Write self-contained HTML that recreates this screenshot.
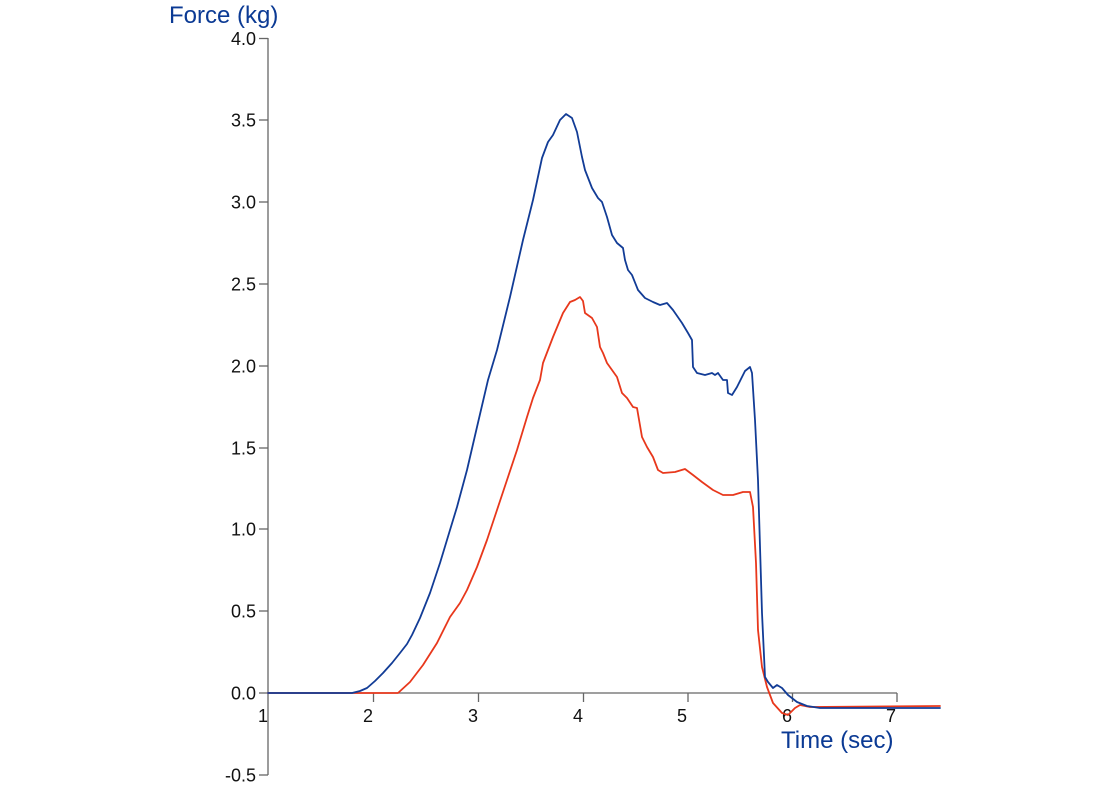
<!DOCTYPE html>
<html>
<head>
<meta charset="utf-8">
<style>
html,body{margin:0;padding:0;background:#fff;}
svg{display:block;}
text{font-family:"Liberation Sans",Arial,sans-serif;}
</style>
</head>
<body>
<svg width="1110" height="786" viewBox="0 0 1110 786" xmlns="http://www.w3.org/2000/svg">
<rect width="1110" height="786" fill="#fff"/>
<!-- axes -->
<g stroke="#666" stroke-width="1.3" fill="none">
<line x1="268" y1="38" x2="268" y2="775"/>
<line x1="268" y1="693" x2="897" y2="693"/>
<!-- y ticks -->
<line x1="259" y1="38.5" x2="268" y2="38.5"/>
<line x1="259" y1="120" x2="268" y2="120"/>
<line x1="259" y1="202" x2="268" y2="202"/>
<line x1="259" y1="284" x2="268" y2="284"/>
<line x1="259" y1="366" x2="268" y2="366"/>
<line x1="259" y1="448" x2="268" y2="448"/>
<line x1="259" y1="529" x2="268" y2="529"/>
<line x1="259" y1="611" x2="268" y2="611"/>
<line x1="259" y1="693" x2="268" y2="693"/>
<line x1="259" y1="775" x2="268" y2="775"/>
<!-- x ticks -->
<line x1="373.5" y1="693" x2="373.5" y2="702"/>
<line x1="478.5" y1="693" x2="478.5" y2="702"/>
<line x1="583.5" y1="693" x2="583.5" y2="702"/>
<line x1="688" y1="693" x2="688" y2="702"/>
<line x1="792.5" y1="693" x2="792.5" y2="702"/>
<line x1="897" y1="693" x2="897" y2="702"/>
</g>
<!-- y labels -->
<g font-size="18" fill="#111" text-anchor="end">
<text x="256" y="45">4.0</text>
<text x="256" y="126.5">3.5</text>
<text x="256" y="208.5">3.0</text>
<text x="256" y="290.5">2.5</text>
<text x="256" y="372.5">2.0</text>
<text x="256" y="454.5">1.5</text>
<text x="256" y="535.5">1.0</text>
<text x="256" y="617.5">0.5</text>
<text x="256" y="699.5">0.0</text>
<text x="256" y="781.5">-0.5</text>
</g>
<!-- x labels -->
<g font-size="18" fill="#111" text-anchor="middle">
<text x="263" y="722">1</text>
<text x="368" y="722">2</text>
<text x="473" y="722">3</text>
<text x="578" y="722">4</text>
<text x="682" y="722">5</text>
<text x="787" y="722">6</text>
<text x="891" y="722">7</text>
</g>
<text x="169" y="23" font-size="24" fill="#0b3a94">Force (kg)</text>
<text x="781" y="748" font-size="24" fill="#0b3a94">Time (sec)</text>
<!-- red series -->
<polyline fill="none" stroke="#e8381c" stroke-width="1.8" stroke-linejoin="round" stroke-linecap="round" points="268,693 398,693 410,682 423,665 437,643 450,617 460,603 467,590 477,567 487,540 497,510 507,480 517,450 527,417 533,398 540,380 543,363 553,337 563,313 570,302 575,300 580,297 583,301 585,313 592,318 597,327 600,347 603,353 607,363 617,377 622,393 627,398 633,407 637,408 642,437 647,447 653,457 658,470 663,473 675,472 685,469 693,475 702,482 713,490 723,495 733,495 743,492 750,492 753,507 756,563 758,630 762,667 767,687 773,703 782,713 788,715 795,708 800,705 810,707 940,706"/>
<!-- blue series -->
<polyline fill="none" stroke="#123c96" stroke-width="1.8" stroke-linejoin="round" stroke-linecap="round" points="268,693 352,693 360,691 367,688 375,681 383,673 392,663 400,653 407,644 412,635 420,618 430,593 440,563 450,530 457,507 467,470 477,427 488,380 497,350 510,297 523,240 533,200 542,158 548,142 553,135 560,120 566,114 572,118 577,132 582,157 585,170 592,188 598,198 602,202 607,217 612,235 617,243 623,248 625,260 628,270 632,275 638,290 645,298 653,302 660,305 667,303 673,310 682,323 688,333 692,340 693,367 697,373 705,375 712,373 715,375 718,373 723,380 727,380 728,393 732,395 737,387 745,371 750,367 752,373 755,420 758,480 762,613 765,677 768,682 773,688 777,685 782,688 788,695 797,702 807,706 820,708 940,708"/>
</svg>
</body>
</html>
